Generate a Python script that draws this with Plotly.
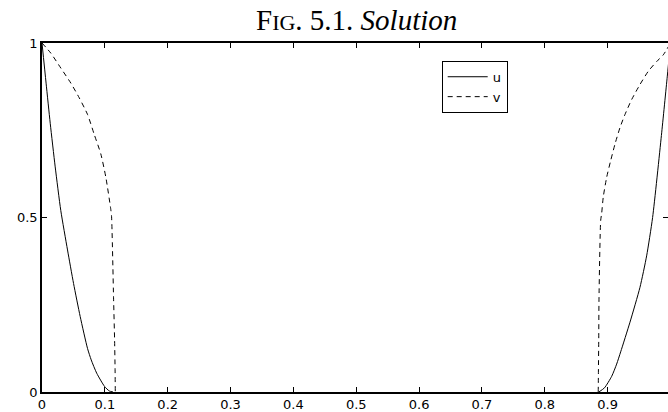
import plotly.graph_objects as go

# ---- data ----
u_left_x = [0, 0.0065, 0.0131, 0.021, 0.0299, 0.0406, 0.0502, 0.0608, 0.0724, 0.0783, 0.087, 0.0995, 0.107, 0.113]
u_left_y = [1, 0.885, 0.77, 0.645, 0.52, 0.407, 0.311, 0.216, 0.125, 0.092, 0.054, 0.016, 0.003, 0]
u_right_x = [0.886, 0.895, 0.9064, 0.9143, 0.9207, 0.9355, 0.9514, 0.962, 0.9715, 0.9855, 0.9949, 1.0]
u_right_y = [0, 0.012, 0.045, 0.08, 0.115, 0.2, 0.3, 0.39, 0.5, 0.735, 0.905, 1.0]

v_left_x = [0, 0.014, 0.030, 0.0459, 0.0592, 0.0725, 0.0831, 0.0936, 0.1016, 0.1096, 0.1107, 0.1139, 0.1155, 0.1163, 0.1166]
v_left_y = [1, 0.971, 0.928, 0.885, 0.843, 0.795, 0.738, 0.682, 0.615, 0.521, 0.502, 0.266, 0.15, 0.06, 0]
v_right_x = [0.885, 0.8853, 0.8858, 0.8862, 0.8889, 0.8904, 0.893, 0.8984, 0.9048, 0.9116, 0.9196, 0.9275, 0.9382, 0.9514, 0.9646, 0.978, 0.9885, 1.0]
v_right_y = [0, 0.06, 0.15, 0.266, 0.492, 0.511, 0.5586, 0.615, 0.663, 0.710, 0.7575, 0.795, 0.838, 0.881, 0.919, 0.947, 0.966, 1.0]

x_ticks = [0, 0.1, 0.2, 0.3, 0.4, 0.5, 0.6, 0.7, 0.8, 0.9]
x_tick_labels = ["0", "0.1", "0.2", "0.3", "0.4", "0.5", "0.6", "0.7", "0.8", "0.9"]
y_ticks = [0, 0.5, 1]
y_tick_labels = ["0", "0.5", "1"]

u_x = u_left_x + [None] + u_right_x
u_y = u_left_y + [None] + u_right_y
v_x = v_left_x + [None] + v_right_x
v_y = v_left_y + [None] + v_right_y

fig = go.Figure()
fig.add_trace(go.Scatter(x=u_x, y=u_y, mode="lines", name="u",
                         line=dict(color="black", width=1, shape="spline", smoothing=0.6)))
fig.add_trace(go.Scatter(x=v_x, y=v_y, mode="lines", name="v",
                         line=dict(color="black", width=1, dash="5px,4px", shape="spline", smoothing=0.6)))
fig.add_trace(go.Scatter(x=[None], y=[None], yaxis="y2", showlegend=False, hoverinfo="skip"))

tick_font = dict(family="DejaVu Sans, Arial, sans-serif", size=13, color="black")

fig.update_layout(
    width=668, height=412,
    margin=dict(l=42, r=0, t=43, b=17, pad=0),
    paper_bgcolor="white", plot_bgcolor="white",
    showlegend=True,
    legend=dict(x=0.6385, y=0.949, xanchor="left", yanchor="top",
                bgcolor="white", bordercolor="black", borderwidth=1,
                font=dict(family="DejaVu Sans, Arial, sans-serif", size=13, color="black"),
                tracegroupgap=0, itemwidth=40),
    xaxis=dict(range=[0, 0.996], tickvals=x_ticks, ticktext=x_tick_labels,
               ticks="inside", ticklen=5, tickwidth=1, tickcolor="black",
               showline=True, linecolor="black", linewidth=1.5, mirror="ticks",
               showgrid=False, zeroline=False, tickfont=tick_font),
    yaxis=dict(range=[0, 1], tickvals=y_ticks, ticktext=y_tick_labels,
               ticks="inside", ticklen=5, tickwidth=1, tickcolor="black",
               showline=True, linecolor="black", linewidth=1.5, mirror=False,
               showgrid=False, zeroline=False, tickfont=tick_font),
    yaxis2=dict(range=[0, 1], overlaying="y", side="right", tickvals=y_ticks,
                ticks="inside", ticklen=5, tickwidth=1, tickcolor="black",
                showticklabels=False, showline=False, showgrid=False, zeroline=False),
)

fig.add_annotation(
    text="F<span style='font-size:22px'>IG</span>. 5.1. <i>Solution</i>",
    xref="paper", yref="paper", x=0.502, y=1, xanchor="center", yanchor="bottom",
    yshift=5, showarrow=False,
    font=dict(family="Liberation Serif, Times New Roman, serif", size=29, color="black"),
)

# remove the page's default body margin so the 668x412 figure fills the window
fig.write_html(
    "out.html",
    config={"displayModeBar": False},
    post_script=("document.documentElement.style.margin='0';"
                 "document.body.style.margin='0';"
                 "document.documentElement.style.overflow='hidden';"
                 "document.body.style.overflow='hidden';"),
)
